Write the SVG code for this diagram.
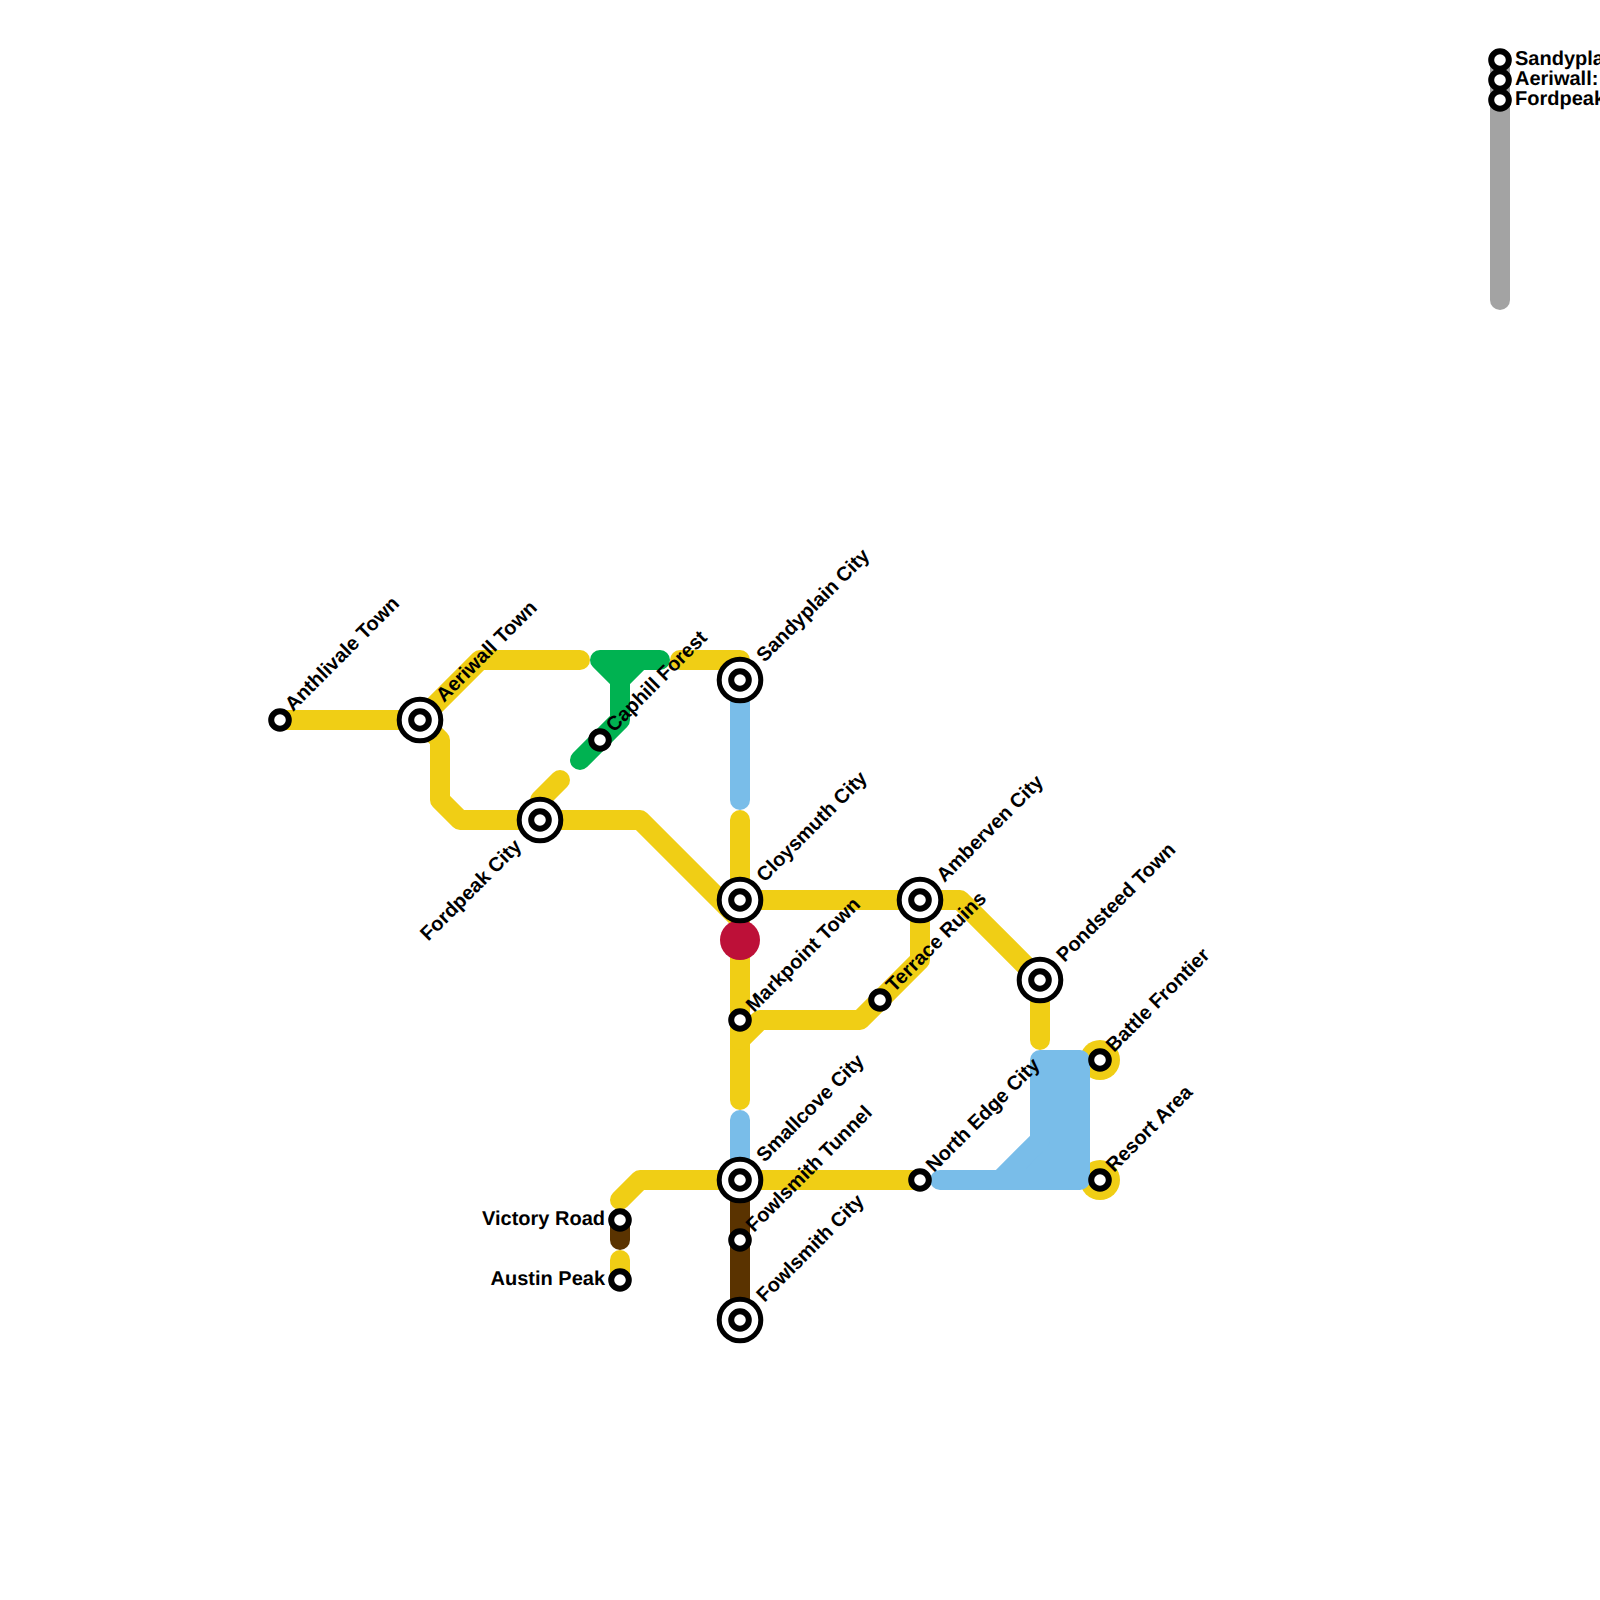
<svg xmlns="http://www.w3.org/2000/svg" width="1600" height="1600" viewBox="0 0 1600 1600">
<style>
.l{fill:none;stroke-width:20;stroke-linecap:round;stroke-linejoin:round}
.y{stroke:#f0ce15}.b{stroke:#79bde9}.g{stroke:#00b251}.n{stroke:#5a3300}.a{stroke:#a3a3a3}
.o{fill:#fff;stroke:#000;stroke-width:5}
.i{fill:#fff;stroke:#000;stroke-width:6}
text{font-family:"Liberation Sans",Arial,sans-serif;font-weight:700;font-size:20px;fill:#000;text-rendering:geometricPrecision}
.e{text-anchor:end}
</style>
<rect width="1600" height="1600" fill="#fff"/>
<g id="connectors">
<circle cx="1100" cy="1060" r="20" fill="#f0ce15"/>
<circle cx="1100" cy="1180" r="20" fill="#f0ce15"/>
<path class="l y" d="M280 720H420L480 660H580"/>
<path class="l y" d="M680 660H740V680"/>
<path class="l y" d="M420 720L440 740V800L460 820H640L740 920"/>
<path class="l y" d="M540 800L560 780"/>
<path class="l y" d="M740 820V1100"/>
<path class="l y" d="M740 900H960L1040 980V1040"/>
<path class="l y" d="M920 900V960L860 1020H760L740 1040"/>
<path class="l y" d="M620 1200L640 1180H920"/>
<path class="l y" d="M620 1260V1280"/>
<path class="l g" d="M600 660H660M600 660L620 680V720L580 760M640 660L620 680"/>
<path d="M600 660H640L620 680Z" fill="#00b251"/>
<path class="l b" d="M740 700V800"/>
<path class="l b" d="M740 1120V1180"/>
<path class="l b" style="fill:#79bde9" d="M940 1180H1080V1060H1040V1140L1000 1180Z"/>
<path class="l n" d="M740 1180V1320"/>
<path class="l n" d="M620 1220V1240"/>
<path class="l a" d="M1500 60V300"/>
<circle cx="740" cy="940" r="20" fill="#bd1038"/>
</g>
<g id="n-anthlivale"><circle class="i" cx="280" cy="720" r="8.8"/><text transform="translate(293 712) rotate(-45)">Anthlivale Town</text></g>
<g id="n-aeriwall"><circle class="o" cx="420" cy="720" r="20.8"/><circle class="i" cx="420" cy="720" r="8.8"/><text transform="translate(444 703) rotate(-45)">Aeriwall Town</text></g>
<g id="n-fordpeak"><circle class="o" cx="540" cy="820" r="20.8"/><circle class="i" cx="540" cy="820" r="8.8"/><text class="e" transform="translate(522.500 847.500) rotate(-45)">Fordpeak City</text></g>
<g id="n-caphill"><circle class="i" cx="600" cy="740" r="8.8"/><text transform="translate(614 733) rotate(-45)">Caphill Forest</text></g>
<g id="n-sandyplain"><circle class="o" cx="740" cy="680" r="20.8"/><circle class="i" cx="740" cy="680" r="8.8"/><text transform="translate(764.500 663) rotate(-45)">Sandyplain City</text></g>
<g id="n-cloysmuth"><circle class="o" cx="740" cy="900" r="20.8"/><circle class="i" cx="740" cy="900" r="8.8"/><text transform="translate(764.500 883) rotate(-45)">Cloysmuth City</text></g>
<g id="n-amberven"><circle class="o" cx="920" cy="900" r="20.8"/><circle class="i" cx="920" cy="900" r="8.8"/><text transform="translate(944.500 883) rotate(-45)">Amberven City</text></g>
<g id="n-pondsteed"><circle class="o" cx="1040" cy="980" r="20.8"/><circle class="i" cx="1040" cy="980" r="8.8"/><text transform="translate(1064.500 963) rotate(-45)">Pondsteed Town</text></g>
<g id="n-terrace"><circle class="i" cx="880" cy="1000" r="8.8"/><text transform="translate(894 993) rotate(-45)">Terrace Ruins</text></g>
<g id="n-markpoint"><circle class="i" cx="740" cy="1020" r="8.8"/><text transform="translate(754 1013) rotate(-45)">Markpoint Town</text></g>
<g id="n-battle"><circle class="i" cx="1100" cy="1060" r="8.8"/><text transform="translate(1114 1053) rotate(-45)">Battle Frontier</text></g>
<g id="n-resort"><circle class="i" cx="1100" cy="1180" r="8.8"/><text transform="translate(1114 1173) rotate(-45)">Resort Area</text></g>
<g id="n-northedge"><circle class="i" cx="920" cy="1180" r="8.8"/><text transform="translate(934 1173) rotate(-45)">North Edge City</text></g>
<g id="n-smallcove"><circle class="o" cx="740" cy="1180" r="20.8"/><circle class="i" cx="740" cy="1180" r="8.8"/><text transform="translate(764.500 1163) rotate(-45)">Smallcove City</text></g>
<g id="n-tunnel"><circle class="i" cx="740" cy="1240" r="8.8"/><text transform="translate(754 1233) rotate(-45)">Fowlsmith Tunnel</text></g>
<g id="n-fowlsmith"><circle class="o" cx="740" cy="1320" r="20.8"/><circle class="i" cx="740" cy="1320" r="8.8"/><text transform="translate(764.500 1303) rotate(-45)">Fowlsmith City</text></g>
<g id="n-victory"><circle class="i" cx="620" cy="1220" r="8.8"/><text class="e" x="605" y="1225">Victory Road</text></g>
<g id="n-austin"><circle class="i" cx="620" cy="1280" r="8.8"/><text class="e" x="605" y="1285">Austin Peak</text></g>
<g id="legend">
<circle class="i" cx="1500" cy="60" r="8.8"/><text x="1515" y="65">Sandypla</text>
<circle class="i" cx="1500" cy="80" r="8.8"/><text x="1515" y="85">Aeriwall:</text>
<circle class="i" cx="1500" cy="100" r="8.8"/><text x="1515" y="105">Fordpeak</text>
</g>
</svg>
